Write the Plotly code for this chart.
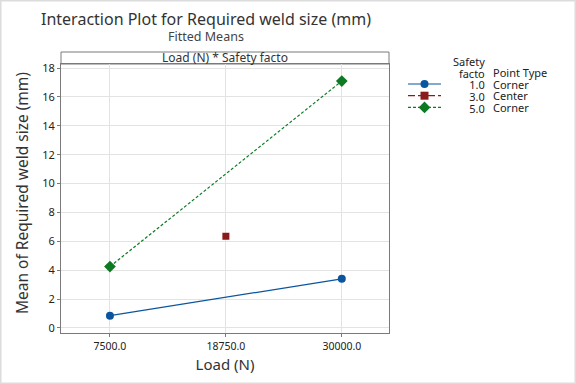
import plotly.graph_objects as go

# ---- data ----
loads = [7500.0, 18750.0, 30000.0]
load_ticks = ["7500.0", "18750.0", "30000.0"]
sf1_x = [7500.0, 30000.0]
sf1_y = [0.85, 3.40]
sf3_x = [18750.0]
sf3_y = [6.35]
sf5_x = [7500.0, 30000.0]
sf5_y = [4.25, 17.10]
legend_levels = ["1.0", "3.0", "5.0"]
legend_types = ["Corner", "Center", "Corner"]

W, H = 576, 384
FONT = "Noto Sans"
BLUE, RED, GREEN = "#0B559F", "#8B1A1A", "#0B7A22"
GRID, FRAME = "#e3e3e3", "#7a7a7a"

# plot area in pixels
L, R, T, B = 61, 389, 64, 333
HDR_T = 52

def px(x):
    return x / W

def py(y):
    return 1 - y / H

fig = go.Figure()

fig.add_trace(go.Scatter(x=sf1_x, y=sf1_y, mode="lines+markers",
                         line=dict(color=BLUE, width=1.2),
                         marker=dict(symbol="circle", size=8, color=BLUE),
                         showlegend=False))
fig.add_trace(go.Scatter(x=sf3_x, y=sf3_y, mode="markers",
                         marker=dict(symbol="square", size=7, color=RED),
                         showlegend=False))
fig.add_trace(go.Scatter(x=sf5_x, y=sf5_y, mode="lines+markers",
                         line=dict(color=GREEN, width=1.2, dash="3px,2px"),
                         marker=dict(symbol="diamond", size=9, color=GREEN),
                         showlegend=False))

# ---- manual legend on hidden pixel axes ----
styles = [
    (BLUE, "solid", "circle", 8),
    (RED, "7px,3px", "square", 8),
    (GREEN, "3px,2px", "diamond", 9),
]

def ann(x, y, text, anchor, size=11, color="#222", align="center", angle=0):
    fig.add_annotation(x=px(x), y=py(y), xref="paper", yref="paper", text=text,
                       showarrow=False, xanchor=anchor, yanchor="middle", borderpad=0,
                       align=align, textangle=angle,
                       font=dict(family=FONT, size=size, color=color))

ROW = 11.7
for i in range(len(legend_levels)):
    c, d, s, sz = styles[i]
    yy = 84 + ROW * i
    fig.add_trace(go.Scatter(x=[408, 441], y=[yy, yy], mode="lines",
                             line=dict(color=c, width=1.2, dash=d),
                             xaxis="x2", yaxis="y2", showlegend=False,
                             hoverinfo="skip", cliponaxis=False))
    fig.add_trace(go.Scatter(x=[424.5], y=[yy], mode="markers",
                             marker=dict(symbol=s, size=sz, color=c),
                             xaxis="x2", yaxis="y2", showlegend=False,
                             hoverinfo="skip", cliponaxis=False))

SP = "<span style='font-size:11px'>{}</span>"
col1 = "<br>".join(SP.format(t) for t in ["Safety", "facto"] + legend_levels)
col2 = "<br>".join(SP.format(t) for t in ["Point Type"] + legend_types)
ann(486, 85, col1, "right", 9, align="right")
ann(492, 84 + ROW * 0.5, col2, "left", 9, align="left")

# ---- titles ----
ann(206, 26.5, "<span style='font-size:16px;color:#333'>Interaction Plot for Required weld size (mm)</span>"
    "<br>Fitted Means", "center", 12.5, "#444")
ann((L + R) / 2, 58, "Load (N) * Safety facto", "center", 12, "#333")
ann(22, 193, "Mean of Required weld size (mm)", "center", 15.5, "#333", angle=-90)

# header strip
fig.add_shape(type="rect", xref="paper", yref="paper",
              x0=px(L), x1=px(R), y0=py(T), y1=py(HDR_T),
              line=dict(color=FRAME, width=1), fillcolor="white", layer="below")
# outer border
fig.add_shape(type="rect", xref="paper", yref="paper", x0=0, x1=1, y0=0, y1=1,
              line=dict(color="#dcdcdc", width=3))

axis_common = dict(showline=True, linecolor=FRAME, linewidth=1, mirror=True,
                   showgrid=True, gridcolor=GRID, gridwidth=1, zeroline=False,
                   ticks="outside", ticklen=3, tickcolor=FRAME, automargin=False)

fig.update_layout(
    width=W, height=H,
    margin=dict(l=0, r=0, t=0, b=0),
    paper_bgcolor="white", plot_bgcolor="rgba(0,0,0,0)",
    font=dict(family=FONT, color="#222"),
    showlegend=False,
    xaxis=dict(domain=[px(L), px(R)], range=[2750, 34580],
               tickvals=loads, ticktext=load_ticks,
               tickfont=dict(family=FONT, size=10.5, color="#222"),
               title=dict(text="Load (N)", font=dict(family=FONT, size=15, color="#333"),
                          standoff=7),
               **axis_common),
    yaxis=dict(domain=[py(B), py(T)], range=[-0.35, 18.28],
               tickvals=list(range(0, 19, 2)),
               tickfont=dict(family=FONT, size=11, color="#222"),
               **axis_common),
    xaxis2=dict(domain=[0, 1], range=[0, W], visible=False, anchor="y2", fixedrange=True),
    yaxis2=dict(domain=[0, 1], range=[H, 0], visible=False, anchor="x2", fixedrange=True),
)

fig.write_html("out.html", config={"displayModeBar": False},
               post_script="document.body.style.margin='0';document.body.style.overflow='hidden';")
